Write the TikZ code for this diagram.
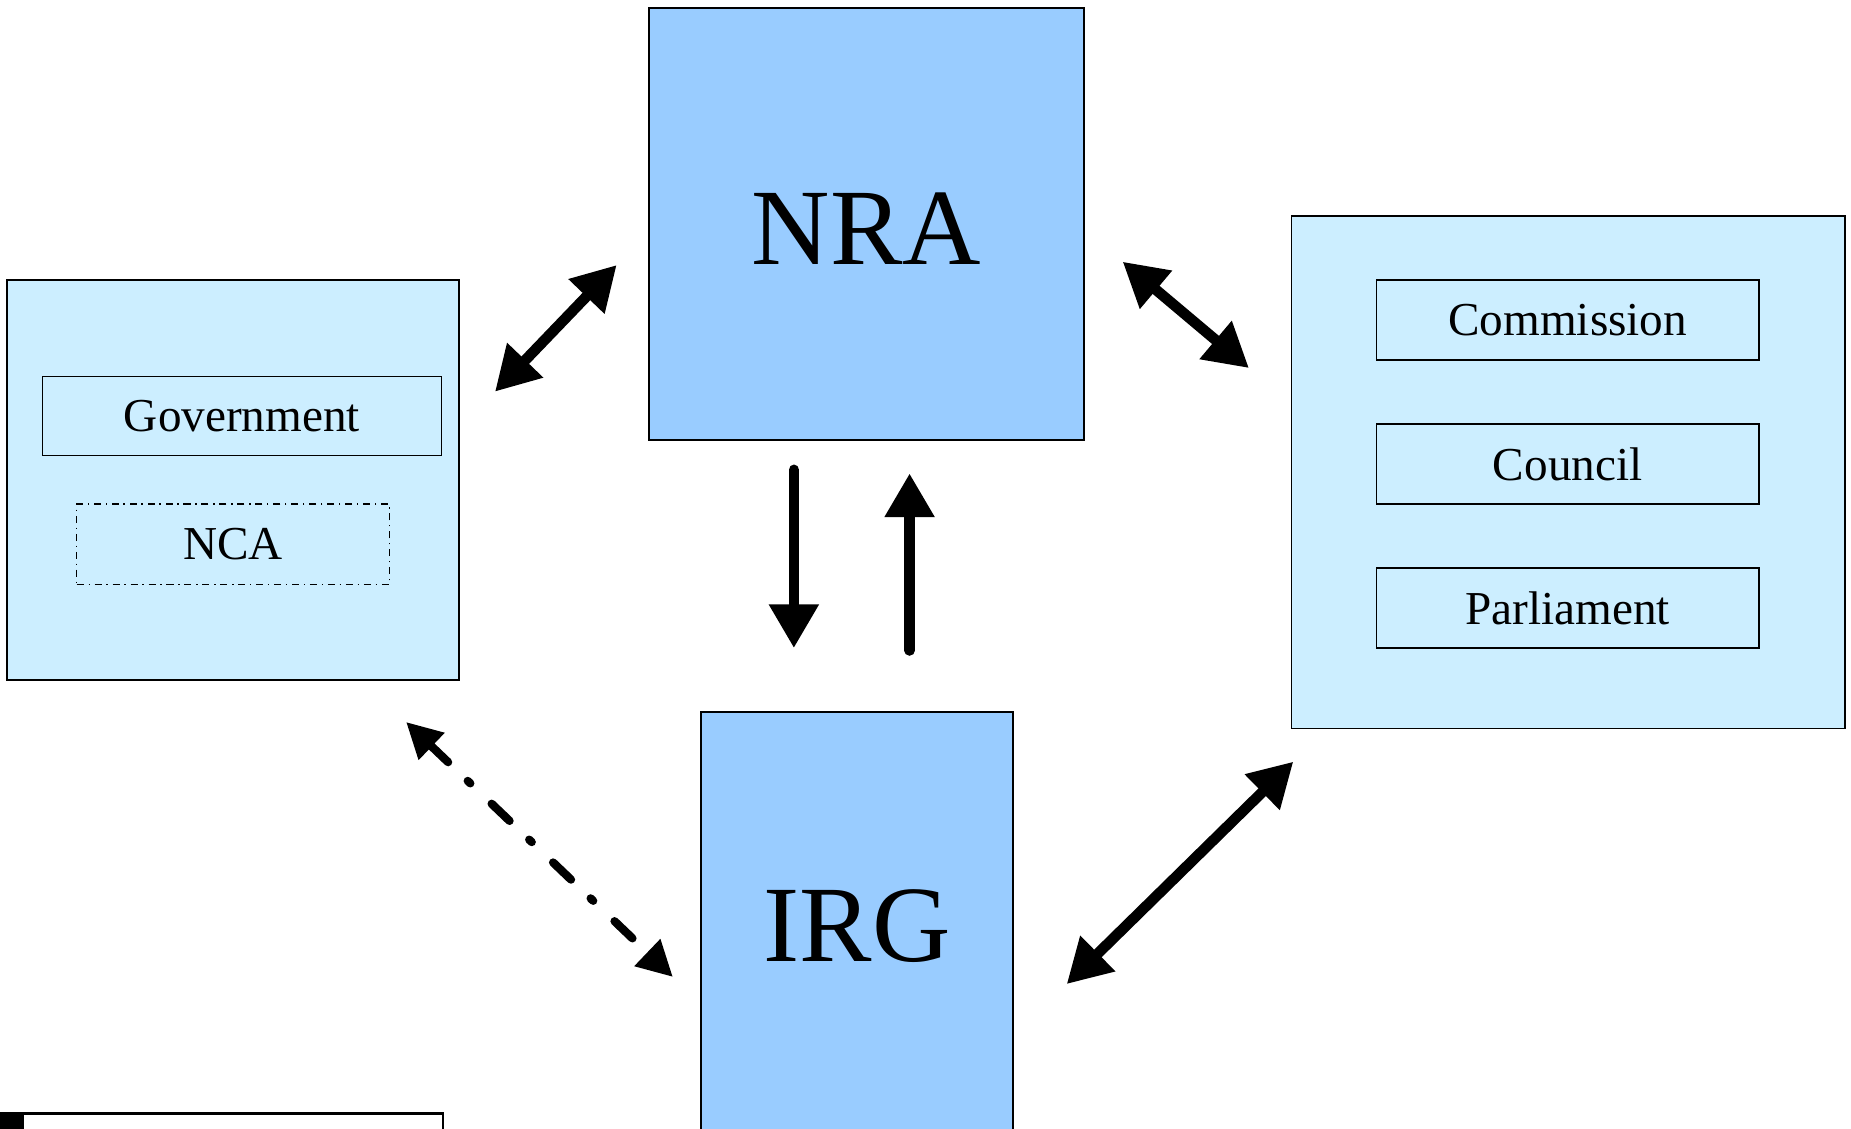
\documentclass[tikz,border=0pt]{standalone}
\usepackage{fontspec}
\setmainfont{Liberation Serif}
\usetikzlibrary{arrows.meta}
\definecolor{darkblue}{HTML}{99CCFF}
\definecolor{lightblue}{HTML}{CCEEFF}
\tikzset{
  bigbox/.style={draw=black, line width=0.7pt, fill=darkblue, inner sep=0pt,
    font=\fontsize{46pt}{50pt}\selectfont},
  groupbox/.style={draw=black, line width=0.7pt, fill=lightblue, inner sep=0pt},
  itembox/.style={draw=black, line width=0.7pt, fill=lightblue, inner sep=0pt,
    minimum width=162pt, minimum height=34pt, font=\fontsize{20pt}{24pt}\selectfont},
  solidarrow/.style={line width=4.5pt, line cap=round, {Triangle[width=20pt,length=18.5pt]}-{Triangle[width=20pt,length=18.5pt]}},
  onearrow/.style={line width=4.5pt, line cap=round, -{Triangle[width=20pt,length=18.5pt]}},
  dasharrow/.style={line width=3.5pt, line cap=round,
    dash pattern=on 10.5pt off 11.5pt on 1.5pt off 12.5pt,
    {Triangle[width=15pt,length=15pt]}-{Triangle[width=15pt,length=15pt]}},
}
\begin{document}
\begin{tikzpicture}[x=0.5pt,y=-0.5pt]
\useasboundingbox (0,0) rectangle (1568,956);
\clip (0,0) rectangle (1568,956);
\fill[white] (0,0) rectangle (1568,956);

% main boxes
\node[bigbox, minimum width=184pt, minimum height=183pt, text height=34pt, text depth=0pt] (nra) at (734,190) {NRA};
\node[bigbox, minimum width=132pt, minimum height=183pt, text height=31pt, text depth=2.5pt] (irg) at (726,786) {IRG};

% left group
\node[groupbox, minimum width=191.5pt, minimum height=169.5pt] (left) at (197.5,406.5) {};
\node[itembox, minimum width=169pt, minimum height=33.5pt] (gov) at (205,352.5) {Government};
\node[draw=black, line width=0.6pt, dash pattern=on 3pt off 2pt on 0.6pt off 2pt, inner sep=0pt,
  minimum width=132.5pt, minimum height=34pt, font=\fontsize{20pt}{24pt}\selectfont] (nca) at (197.5,461) {NCA};

% right group
\node[groupbox, minimum width=234.5pt, minimum height=217pt] (right) at (1328.5,400) {};
\node[itembox] (com) at (1328,271) {Commission};
\node[itembox] (cou) at (1328,393) {Council};
\node[itembox] (par) at (1328,515) {Parliament};

% legend fragment at bottom left
\node[draw=black, line width=1.15pt, fill=white, inner sep=0pt, anchor=north west,
  minimum width=187pt, minimum height=30pt] (legend) at (0,942) {};
\fill[black] (legend.north west) rectangle ++(20,40);

% arrow end points
\coordinate (a1s) at (419.3,331.8);
\coordinate (a1e) at (522.4,224.5);
\coordinate (a2s) at (951,221.7);
\coordinate (a2e) at (1058,311.8);
\coordinate (a3s) at (903.6,833.6);
\coordinate (a3e) at (1095.6,645.2);
\coordinate (a4s) at (344,611.6);
\coordinate (a4e) at (570,827.6);
\coordinate (dns) at (672.5,398);
\coordinate (dne) at (672.5,549);
\coordinate (ups) at (770.5,551);
\coordinate (upe) at (770.5,401);

\draw[solidarrow] (a1s) -- (a1e);
\draw[solidarrow] (a2s) -- (a2e);
\draw[solidarrow] (a3s) -- (a3e);
\draw[dasharrow] (a4s) -- (a4e);
\draw[onearrow] (dns) -- (dne);
\draw[onearrow] (ups) -- (upe);
\end{tikzpicture}
\end{document}
